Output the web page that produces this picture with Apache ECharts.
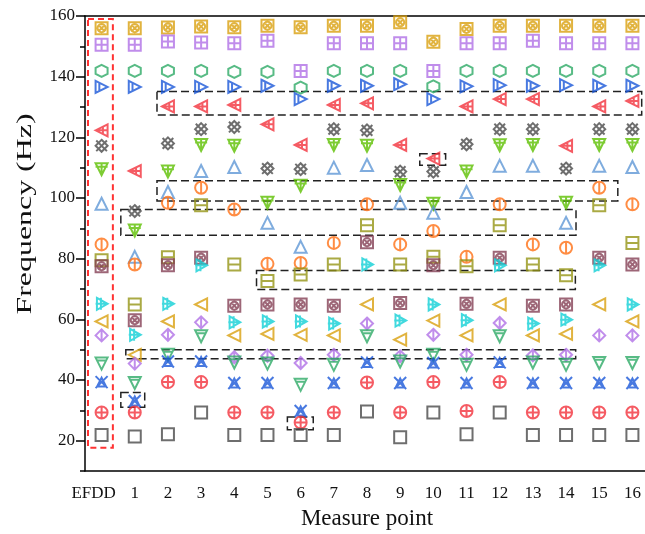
<!DOCTYPE html>
<html>
<head>
<meta charset="utf-8">
<script src="https://cdn.jsdelivr.net/npm/echarts@6/dist/echarts.min.js"></script>
<style>
  html, body { margin: 0; padding: 0; background: #fff; }
  #chart { width: 645px; height: 534px; }
</style>
</head>
<body>
<div id="chart"></div>
<script>
const categories = ['EFDD', '1', '2', '3', '4', '5', '6', '7', '8', '9', '10', '11', '12', '13', '14', '15', '16'];
const yLabels = [20, 40, 60, 80, 100, 120, 140, 160];

// one array per marker type, one value per measure point (Hz)
const goldBox = [156.0, 156.0, 156.2, 156.5, 156.3, 156.8, 156.3, 156.8, 156.8, 157.9, 151.5, 155.7, 156.8, 156.8, 156.8, 156.8, 156.8];
const purpleGrid = [150.5, 150.5, 151.6, 151.3, 151.0, 151.8, 141.9, 151.0, 151.0, 151.0, 141.9, 151.0, 151.0, 151.8, 151.0, 151.0, 151.0];
const greenHex = [141.9, 141.9, 141.9, 141.9, 141.6, 141.6, 136.4, 141.9, 141.9, 141.9, 136.8, 141.9, 141.9, 141.9, 141.9, 141.9, 141.9];
const blueTriR = [136.6, 136.6, 136.6, 136.6, 136.6, 137.0, 132.6, 137.0, 137.0, 137.5, 132.6, 136.8, 137.2, 137.0, 137.2, 137.0, 137.0];
const redTriL = [122.3, 108.9, 130.2, 130.2, 130.7, 124.3, 117.5, 130.7, 131.2, 117.5, 113.0, 130.2, 132.6, 132.6, 117.2, 130.2, 132.0];
const grayHatch = [117.2, 95.7, 118.0, 122.7, 123.4, 109.7, 109.5, 122.7, 122.3, 108.7, 108.7, 117.7, 122.7, 122.7, 109.7, 122.7, 122.7];
const limeTriD = [109.5, 89.3, 108.7, 117.5, 117.2, 98.4, 104.0, 117.5, 117.2, 104.3, 98.1, 108.7, 117.4, 117.5, 98.4, 117.5, 117.5];
const blueTriU = [98.1, 80.6, 102.0, 108.9, 110.2, 91.8, 83.9, 110.0, 110.9, 98.4, 95.1, 102.0, 110.6, 110.6, 91.8, 110.6, 110.2];
const orangePhi = [84.7, 78.1, 98.4, 103.4, 96.2, 78.3, 78.6, 85.2, 97.9, 84.7, 89.1, 80.6, 97.9, 84.7, 83.6, 103.4, 97.9];
const oliveBox = [79.5, 64.9, 80.5, 97.6, 78.1, 72.6, 74.8, 78.1, 91.0, 78.1, 80.6, 77.5, 91.0, 78.1, 74.5, 97.6, 85.2];
const brownBox = [77.5, 59.7, 77.8, 80.3, 64.5, 64.9, 64.9, 64.5, 85.4, 65.4, 77.8, 65.1, 80.3, 64.5, 64.9, 80.3, 78.1];
const cyanTri = [65.1, 54.9, 65.1, 77.8, 59.0, 59.3, 59.3, 58.6, 78.1, 59.6, 64.9, 59.7, 77.8, 58.6, 59.9, 77.8, 64.9];
const goldTriL = [59.3, 48.3, 59.3, 64.9, 54.7, 55.2, 54.9, 54.7, 64.9, 53.3, 59.6, 54.7, 64.9, 54.7, 55.2, 64.9, 59.3];
const purpleDiamond = [54.7, 45.4, 54.9, 59.0, 47.5, 48.0, 45.6, 48.3, 58.6, 47.8, 54.9, 48.3, 58.8, 48.1, 48.3, 54.7, 54.7];
const greenTriD = [45.4, 39.0, 48.3, 54.4, 45.8, 45.4, 38.4, 45.0, 54.4, 46.1, 48.3, 45.0, 54.4, 45.8, 45.0, 45.6, 45.6];
const blueStar = [39.3, 33.1, 46.1, 46.1, 39.0, 39.0, 29.8, 39.0, 45.8, 39.0, 45.6, 39.0, 45.8, 39.0, 39.0, 39.0, 39.0];
const redCircle = [29.3, 29.3, 39.3, 39.3, 29.3, 29.3, 26.0, 29.3, 39.2, 29.3, 39.3, 29.8, 39.3, 29.3, 29.3, 29.3, 29.3];
const graySquare = [21.9, 21.4, 22.1, 29.3, 21.9, 21.9, 21.9, 21.9, 29.6, 21.1, 29.3, 22.1, 29.3, 21.9, 21.9, 21.9, 21.9];

// dashed boxes: [x from, x to, y from, y to], x in category index units
const blackBoxes = [
  [1.67, 16.28, 127.4, 135.1],
  [1.67, 15.56, 99.0, 105.7],
  [0.58, 14.30, 87.7, 96.2],
  [4.67, 14.28, 69.8, 76.1],
  [0.73, 14.29, 47.0, 50.0],
  [0.58, 1.30, 31.0, 35.9],
  [5.60, 6.38, 23.6, 27.8],
  [9.59, 10.37, 110.8, 114.6]
];
const redBoxes = [[-0.41, 0.34, 17.7, 159.0]];

const sq = 'M1 1H19V19H1Z';
const circ = 'M10 1A9 9 0 1 1 9.99 1Z';
const markers = [
  {data: goldBox, color: '#d9a00f', path: sq + 'M10 4A6 6 0 1 1 9.99 4ZM5.8 5.8L14.2 14.2M14.2 5.8L5.8 14.2'},
  {data: purpleGrid, color: '#b070e6', path: sq + 'M10 1V19M1 10H19'},
  {data: greenHex, color: '#2eaa66', path: 'M10 0L18.66 5L18.66 15L10 20L1.34 15L1.34 5Z'},
  {data: blueTriR, color: '#1a58d8', path: 'M3 1L19 10L3 19ZM8 3V17'},
  {data: redTriL, color: '#f2323c', path: 'M1 10L19 1L19 19ZM1 10H19M12 4V16'},
  {data: grayHatch, color: '#4a4a4a', path: 'M2 2L18 18M18 2L2 18M10 1L19 10L10 19L1 10Z'},
  {data: limeTriD, color: '#5cbf00', path: 'M1 2H19L10 19ZM1 7H19M10 2V19'},
  {data: blueTriU, color: '#5f97d6', path: 'M10 1L19 18H1Z'},
  {data: orangePhi, color: '#ff7015', path: circ + 'M10 1V19'},
  {data: oliveBox, color: '#959515', path: sq + 'M1 10H19'},
  {data: brownBox, color: '#844055', path: sq + 'M10 4A6 6 0 1 1 9.99 4ZM5.8 5.8L14.2 14.2M14.2 5.8L5.8 14.2'},
  {data: cyanTri, color: '#12cfd6', path: 'M3 1L19 10L3 19ZM1 10H19M9 1V19'},
  {data: goldTriL, color: '#d9a00f', path: 'M1 10L19 1L19 19Z'},
  {data: purpleDiamond, color: '#b070e6', path: 'M10 1L19 10L10 19L1 10ZM10 1V19'},
  {data: greenTriD, color: '#2eaa66', path: 'M1 2H19L10 19ZM3 6H17'},
  {data: blueStar, color: '#1a58d8', path: 'M2 2L18 18M18 2L2 18M10 4L16 16H4Z'},
  {data: redCircle, color: '#f2323c', path: circ + 'M10 1V19M1 10H19'},
  {data: graySquare, color: '#4a4a4a', path: sq}
];

const chart = echarts.init(document.getElementById('chart'));
const font = 'Liberation Serif';

const series = markers.map(m => ({
  type: 'scatter',
  symbol: 'path://' + m.path,
  symbolSize: 12,
  itemStyle: {color: 'rgba(0,0,0,0)', borderColor: m.color, borderWidth: 2},
  data: m.data
}));

const boxSeries = (boxes, color, dash, width) => ({
  type: 'scatter',
  xAxisIndex: 1,
  symbolSize: 0,
  data: [[0, 0]],
  markArea: {
    silent: true,
    itemStyle: {color: 'rgba(0,0,0,0)', borderColor: color, borderWidth: width, borderType: dash},
    data: boxes.map(b => [{coord: [b[0], b[3]]}, {coord: [b[1], b[2]]}])
  }
});
series.push(boxSeries(blackBoxes, '#222', [8, 4], 1.5));
series.push(boxSeries(redBoxes, '#ff3333', [6, 4], 2));

let option = {
  animation: false,
  backgroundColor: '#fff',
  grid: {left: 85, top: 16, width: 564, height: 455, outerBoundsMode: 'none', containLabel: false},
  xAxis: [
    {
      type: 'category',
      data: categories,
      axisLine: {lineStyle: {color: '#000', width: 1.5}},
      axisTick: {alignWithLabel: true, length: 7, lineStyle: {color: '#000', width: 1.5}},
      axisLabel: {
        interval: 0, margin: 14, color: '#111', fontFamily: font, fontSize: 17,
        formatter: v => v === 'EFDD' ? '{e|EFDD}' : v,
        rich: {e: {fontFamily: font, fontSize: 17, color: '#111', padding: [0, 16, 0, 0]}}
      },
      name: 'Measure point',
      nameLocation: 'middle',
      nameGap: 36,
      nameTextStyle: {fontFamily: font, fontSize: 23, color: '#111'}
    },
    {
      type: 'value', min: -0.5, max: 16.5, position: 'top',
      axisLine: {show: true, onZero: false, lineStyle: {color: '#000', width: 1.5}},
      axisTick: {show: false},
      axisLabel: {show: false},
      splitLine: {show: false}
    }
  ],
  yAxis: [
    {
      type: 'value', min: 10, max: 160, interval: 10,
      splitLine: {show: false},
      axisLine: {show: true, onZero: false, lineStyle: {color: '#000', width: 1.5}},
      axisTick: {show: true, length: 5, lineStyle: {color: '#000', width: 1.5}},
      axisLabel: {
        margin: 10, color: '#111', fontFamily: font, fontSize: 17,
        formatter: v => yLabels.includes(v) ? String(v) : ''
      }
    },
    {
      type: 'value', min: 10, max: 160, position: 'left',
      splitLine: {show: false},
      axisLine: {show: false, onZero: false},
      axisLabel: {show: false},
      axisTick: {show: true, length: 9, customValues: yLabels, lineStyle: {color: '#000', width: 1.5}}
    }
  ],
  graphic: [{
    type: 'text',
    x: 25, y: 214,
    rotation: Math.PI / 2,
    scaleX: 1.45,
    style: {text: 'Frequency (Hz)', fontFamily: font, fontSize: 22, fill: '#111', align: 'center', verticalAlign: 'middle'}
  }],
  series: series
};

chart.setOption(option);
</script>
</body>
</html>
